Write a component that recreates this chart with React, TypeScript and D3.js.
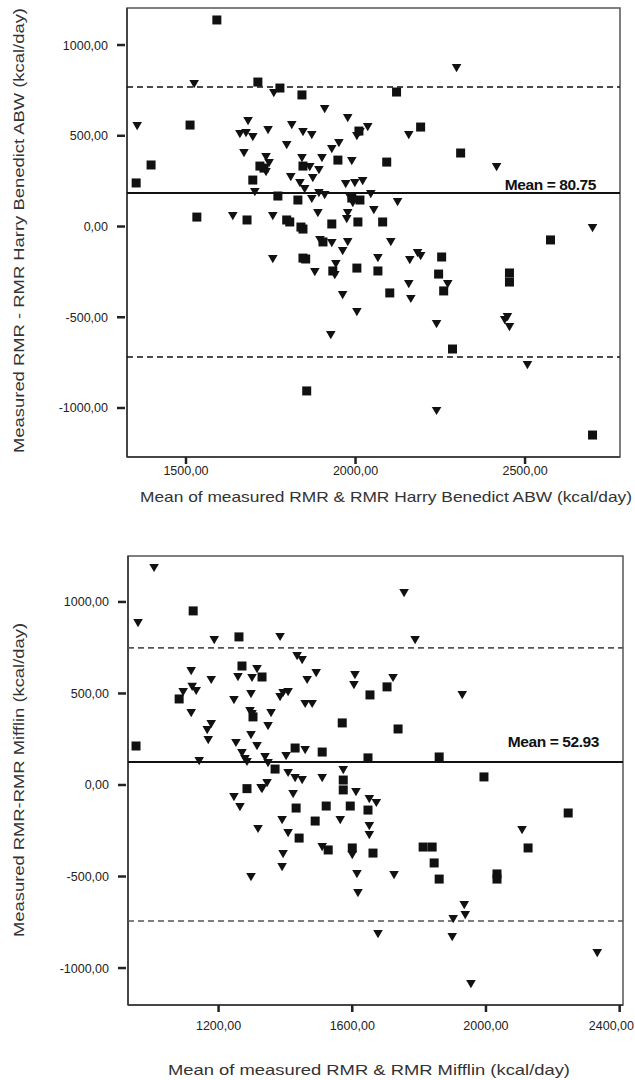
import React from "react";
import * as d3 from "d3";

// Harris Benedict ABW panel: [mean of measured & predicted, difference]
const hbSquares: [number, number][] = [
  [1591, 1138], [1712, 796], [1777, 763], [1842, 725], [2121, 741], [1512, 559],
  [1397, 339], [1353, 240], [2192, 548], [2310, 405], [2092, 355], [1948, 366],
  [2010, 526], [1718, 333], [1730, 322], [1845, 333], [1697, 256], [1771, 168],
  [1830, 146], [1989, 157], [2013, 146], [1532, 52], [1680, 36], [1797, 36],
  [1806, 25], [1839, -3], [1845, -14], [1930, 14], [2007, 25], [2080, 25],
  [1904, -85], [1845, -174], [1853, -179], [1933, -245], [2004, -229], [2066, -245],
  [2101, -366], [2254, -168], [2245, -262], [2260, -355], [2286, -675], [2575, -74],
  [2454, -256], [2454, -306], [1856, -906], [2699, -1149]
];
const hbTriangles: [number, number][] = [
  [1524, 785], [1759, 736], [2298, 873], [1909, 647], [1977, 598], [1356, 554],
  [1683, 581], [1812, 559], [1742, 532], [1659, 510], [1677, 515], [1697, 493],
  [1845, 521], [1871, 504], [2004, 499], [2036, 548], [2013, 521], [2157, 504],
  [1797, 449], [1930, 427], [1951, 460], [1671, 405], [1736, 383], [1745, 350],
  [1736, 300], [1989, 361], [1842, 377], [1901, 377], [1865, 328], [1892, 311],
  [1874, 267], [1809, 273], [1836, 240], [1850, 207], [1971, 234], [1998, 240],
  [2021, 251], [2416, 328], [1703, 190], [1871, 152], [1892, 185], [1909, 174],
  [1983, 163], [1992, 129], [2045, 179], [2124, 135], [2054, 91], [1977, 74],
  [1889, 74], [1974, 41], [1638, 58], [1756, 58], [1895, -74], [1930, -91],
  [1977, -85], [1962, -135], [2104, -85], [1756, -179], [1880, -251], [1942, -207],
  [1939, -267], [2066, -174], [1962, -377], [2004, -471], [1927, -598], [2160, -185],
  [2183, -146], [2192, -163], [2157, -317], [2163, -399], [2272, -317], [2239, -537],
  [2699, -8], [2448, -499], [2454, -554], [2440, -515], [2507, -763], [2239, -1016]
];
const hbLines = [185, 769, -719]; // mean, upper limit, lower limit
const hbXTicks = [1500, 2000, 2500];
const hbYTicks = [1000, 500, 0, -500, -1000];

// Mifflin panel
const mifSquares: [number, number][] = [
  [1124, 951], [1261, 809], [953, 213], [1270, 650], [1330, 590], [1704, 536],
  [1653, 492], [1082, 470], [1303, 372], [1570, 339], [1737, 306], [1429, 202],
  [1510, 180], [1369, 87], [1647, 148], [1573, 27], [1285, -20], [1860, 153],
  [1994, 44], [1573, -27], [1647, -137], [1662, -372], [1812, -339], [1839, -339],
  [1845, -426], [1860, -514], [1432, -126], [1522, -115], [1594, -115], [1489, -197],
  [1441, -290], [1528, -355], [1600, -344], [2246, -153], [2126, -344], [2033, -486],
  [2033, -514]
];
const mifTriangles: [number, number][] = [
  [1007, 1186], [959, 885], [1187, 792], [1384, 809], [1755, 1049], [1788, 792],
  [1142, 131], [1435, 705], [1450, 683], [1315, 634], [1258, 590], [1300, 585],
  [1118, 623], [1178, 574], [1492, 612], [1465, 574], [1608, 601], [1605, 546],
  [1722, 585], [1094, 508], [1121, 536], [1133, 514], [1118, 393], [1246, 464],
  [1297, 497], [1384, 481], [1393, 503], [1408, 508], [1459, 443], [1480, 443],
  [1294, 404], [1300, 388], [1357, 393], [1348, 322], [1178, 333], [1166, 300],
  [1169, 246], [1297, 273], [1252, 230], [1315, 213], [1270, 175], [1279, 142],
  [1285, 126], [1402, 158], [1459, 191], [1339, 153], [1348, 120], [1408, 66],
  [1429, 38], [1450, 27], [1510, 38], [1573, 82], [1327, -16], [1345, 11],
  [1929, 492], [1611, -38], [1651, -77], [1672, -98], [1651, -224], [1651, -273],
  [1614, -486], [1617, -590], [1725, -492], [1677, -814], [1246, -66], [1264, -120],
  [1330, -22], [1423, -49], [1564, -191], [1390, -191], [1408, -262], [1318, -240],
  [1510, -339], [1600, -383], [1393, -377], [1390, -448], [1297, -503], [2108, -246],
  [1935, -656], [1938, -710], [1902, -732], [1899, -831], [1955, -1087], [2333, -918]
];
const mifLines = [126, 749, -743];
const mifXTicks = [1200, 1600, 2000, 2400];
const mifYTicks = [1000, 500, 0, -500, -1000];

const W = 635;
const font = "'Liberation Sans', Arial, sans-serif";
const fmt = (v: number) => v.toFixed(2).replace(".", ",");
const triPath = "M-4.8,-4 L4.8,-4 L0,4.2 Z";

function Panel(props: {
  left: number; top: number; right: number; bottom: number;
  xDomain: [number, number]; yDomain: [number, number];
  xTicks: number[]; yTicks: number[];
  squares: [number, number][]; triangles: [number, number][];
  lines: number[]; meanText: string; dashColor: string;
  yTitle: string; yTitleSpan: [number, number];
  xTitle: string; xTitleX: number; xTitleLen: number; xTitleY: number;
  tickLabelY: number; meanY: number;
}) {
  const p = props;
  const x = d3.scaleLinear().domain(p.xDomain).range([p.left, p.right]);
  const y = d3.scaleLinear().domain(p.yDomain).range([p.bottom, p.top]);
  const [mean, upper, lower] = p.lines;
  const ySpanMid = (p.yTitleSpan[0] + p.yTitleSpan[1]) / 2;
  return (
    <g fontFamily={font}>
      <rect x={p.left} y={p.top} width={p.right - p.left} height={p.bottom - p.top}
        fill="#fff" stroke="#555" strokeWidth={1.5} />
      <line x1={p.left} x2={p.left} y1={p.top} y2={p.bottom} stroke="#333" strokeWidth={1.5} />
      <line x1={p.left} x2={p.right} y1={p.bottom} y2={p.bottom} stroke="#333" strokeWidth={1.5} />
      {/* reference lines */}
      <line x1={p.left} x2={p.right} y1={y(upper)} y2={y(upper)} stroke={p.dashColor}
        strokeWidth={1.6} strokeDasharray="6 4" />
      <line x1={p.left} x2={p.right} y1={y(lower)} y2={y(lower)} stroke={p.dashColor}
        strokeWidth={1.6} strokeDasharray="6 4" />
      <line x1={p.left} x2={p.right} y1={y(mean)} y2={y(mean)} stroke="#111" strokeWidth={2} />
      <text x={p.right - 24} y={p.meanY} textAnchor="end" fontSize={15.5} fontWeight="bold"
        letterSpacing={-0.4} fill="#111">{p.meanText}</text>
      {/* points */}
      {p.squares.map((d, i) => (
        <rect key={"s" + i} x={x(d[0]) - 4.5} y={y(d[1]) - 4.5} width={9} height={9} fill="#111" />
      ))}
      {p.triangles.map((d, i) => (
        <path key={"t" + i} d={triPath} transform={`translate(${x(d[0])},${y(d[1])})`} fill="#111" />
      ))}
      {/* y axis */}
      {p.yTicks.map(t => (
        <g key={"y" + t}>
          <line x1={p.left - 10} x2={p.left - 2} y1={y(t)} y2={y(t)} stroke="#222" strokeWidth={2.5} />
          <text x={p.left - 19} y={y(t) + 4.5} textAnchor="end" fontSize={12.5} fill="#222">{fmt(t)}</text>
        </g>
      ))}
      {/* x axis */}
      {p.xTicks.map(t => {
        const fits = x(t) + 24 < W;
        return (
          <g key={"x" + t}>
            <line x1={x(t)} x2={x(t)} y1={p.bottom} y2={p.bottom + 7} stroke="#222" strokeWidth={2.5} />
            <text x={fits ? x(t) : W - 1} y={p.tickLabelY} textAnchor={fits ? "middle" : "end"}
              fontSize={12.5} fill="#222">{fmt(t)}</text>
          </g>
        );
      })}
      <text transform={`translate(24,${ySpanMid}) rotate(-90)`} textAnchor="middle" fontSize={15}
        fill="#333" textLength={p.yTitleSpan[1] - p.yTitleSpan[0]} lengthAdjust="spacingAndGlyphs">
        {p.yTitle}
      </text>
      <text x={p.xTitleX} y={p.xTitleY} textAnchor="middle" fontSize={14.5} fill="#333"
        textLength={p.xTitleLen} lengthAdjust="spacingAndGlyphs">{p.xTitle}</text>
    </g>
  );
}

export default function App() {
  return (
    <svg width={W} height={1080} style={{ position: "absolute", left: 0, top: 0, background: "#fff" }}>
      <Panel left={127} top={8} right={620} bottom={457}
        xDomain={[1326, 2780]} yDomain={[-1270, 1204]}
        xTicks={hbXTicks} yTicks={hbYTicks}
        squares={hbSquares} triangles={hbTriangles} lines={hbLines}
        meanText="Mean = 80.75" dashColor="#111" meanY={190}
        yTitle="Measured RMR - RMR Harry Benedict ABW (kcal/day)" yTitleSpan={[8, 453]}
        xTitle="Mean of measured RMR & RMR Harry Benedict ABW (kcal/day)" xTitleX={386} xTitleLen={492}
        xTitleY={502} tickLabelY={475} />
      <Panel left={128} top={556} right={623} bottom={1005}
        xDomain={[929, 2410]} yDomain={[-1202, 1251]}
        xTicks={mifXTicks} yTicks={mifYTicks}
        squares={mifSquares} triangles={mifTriangles} lines={mifLines}
        meanText="Mean = 52.93" dashColor="#555" meanY={747}
        yTitle="Measured RMR-RMR Mifflin (kcal/day)" yTitleSpan={[623, 937]}
        xTitle="Mean of measured RMR & RMR Mifflin (kcal/day)" xTitleX={369} xTitleLen={402}
        xTitleY={1075} tickLabelY={1030} />
    </svg>
  );
}
